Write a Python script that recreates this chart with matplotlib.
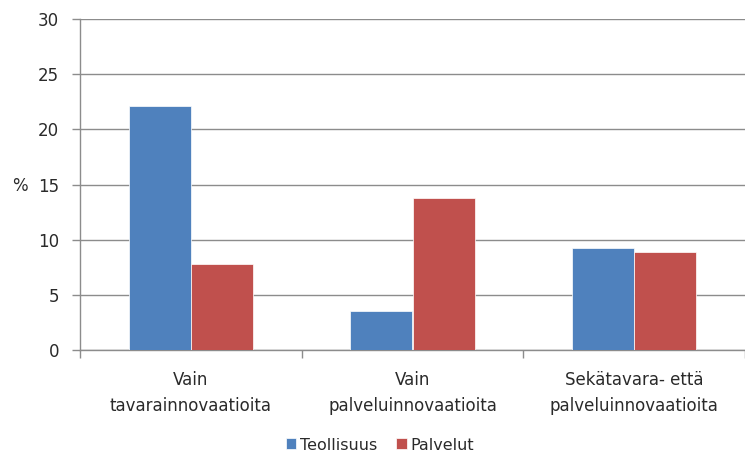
import matplotlib
matplotlib.use("Agg")
import matplotlib.pyplot as plt
import numpy as np

categories = ["Vain\ntavarainnovaatioita", "Vain\npalveluinnovaatioita", "Sekätavara- että\npalveluinnovaatioita"]
series_names = ["Teollisuus", "Palvelut"]
teollisuus = [22.1, 3.5, 9.2]
palvelut = [7.8, 13.8, 8.9]
yticks = [0, 5, 10, 15, 20, 25, 30]

colors = ["#4F81BD", "#C0504D"]
gridc = "#8C8C8C"
textc = "#2A2A2A"
fs = 12

plt.rcParams["font.family"] = ["DejaVu Sans"]
fig = plt.figure(figsize=(7.45, 4.54), dpi=100)
ax = fig.add_axes([80/745, 104/454, 665/745, 331/454])

x = np.arange(len(categories))
w = 0.28
ax.bar(x - w/2, teollisuus, w, color=colors[0], edgecolor="white", linewidth=0.5, label=series_names[0], zorder=3)
ax.bar(x + w/2, palvelut, w, color=colors[1], edgecolor="white", linewidth=0.5, label=series_names[1], zorder=3)

ax.set_xlim(-0.5, len(categories) - 0.5)
ax.set_ylim(0, 30)
ax.set_yticks(yticks)
ax.yaxis.grid(True, color=gridc, linewidth=1.0, zorder=0)
ax.set_axisbelow(True)

for s in ["top", "right"]:
    ax.spines[s].set_visible(False)
for s in ["left", "bottom"]:
    ax.spines[s].set_color(gridc)
    ax.spines[s].set_linewidth(1.0)

ax.tick_params(axis="y", colors=gridc, labelcolor=textc, labelsize=fs, length=6, width=1, pad=9)
ax.set_xticks(x)
ax.set_xticklabels(categories, fontsize=fs, color=textc, linespacing=1.55)
ax.tick_params(axis="x", length=0, pad=15)
ax.set_xticks(np.arange(-0.5, len(categories) + 0.5, 1.0), minor=True)
ax.tick_params(axis="x", which="minor", length=6, width=1, colors=gridc)

fig.text(12/745, 1 - 186/454, "%", fontsize=fs, color=textc, va="center", ha="left")

leg = fig.legend(loc="center", bbox_to_anchor=(380/745, 1 - 445/454), ncol=2, frameon=False,
                 fontsize=11.5, handlelength=0.68, handleheight=0.68, handletextpad=0.25, columnspacing=1.15,
                 borderpad=0.1, borderaxespad=0)
for t in leg.get_texts():
    t.set_color(textc)

fig.savefig("out.png", dpi=100, facecolor="white")
